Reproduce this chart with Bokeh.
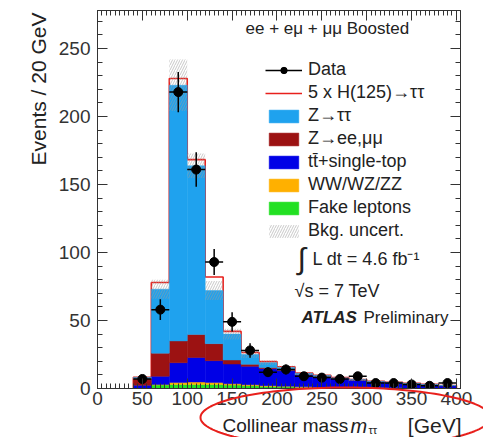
import numpy as np
from bokeh.plotting import figure
from bokeh.models import (Range1d, LinearAxis, SingleIntervalTicker, Label, Legend,
                          LegendItem, ColumnDataSource)
from bokeh.embed import file_html
from bokeh.resources import INLINE

# ---------------- data ----------------
bin_lo = [0, 20, 40, 60, 80, 100, 120, 140, 160, 180, 200, 220, 240, 260, 280, 300, 320, 340, 360, 380]
bin_width = 20
data = [0, 0, 7, 58, 218, 161, 93, 49, 28, 12, 14, 9, 8, 7, 9, 4, 4, 3, 2, 4]
data_err = [0, 0, 2.6, 7.6, 14.8, 12.7, 9.6, 7.0, 5.3, 3.5, 3.7, 3.0, 2.8, 2.6, 3.0, 2.0, 2.0, 1.7, 1.4, 2.0]
fakes = [0, 0, 0.3, 2.5, 3.0, 3.0, 3.0, 2.5, 2.0, 1.5, 1.2, 0.8, 0.6, 0.5, 0.4, 0.3, 0.3, 0.2, 0.2, 0.1]
diboson = [0, 0, 0.1, 0.5, 1.5, 1.8, 1.5, 1.0, 0.8, 0.6, 0.5, 0.4, 0.4, 0.3, 0.3, 0.2, 0.2, 0.2, 0.1, 0.1]
ttbar = [0, 0, 2.0, 6.0, 14.5, 18.0, 16.0, 14.5, 13.5, 12.5, 11.5, 8.8, 7.8, 6.4, 5.4, 4.3, 3.7, 3.0, 2.4, 1.8]
z_ll = [0, 0, 5.0, 17.0, 16.0, 17.0, 12.5, 3.0, 1.5, 0.8, 0.5, 0.3, 0.2, 0.2, 0.1, 0.1, 0.1, 0.1, 0.1, 0.1]
z_tautau = [0, 0, 0.6, 47.0, 188.0, 124.0, 39.0, 19.0, 7.2, 3.6, 1.8, 0.7, 0.5, 0.4, 0.3, 0.3, 0.2, 0.2, 0.2, 0.1]
signal5 = [0, 0, 0.3, 5.0, 5.0, 4.5, 10.0, 2.0, 1.5, 0.8, 0.5, 0.3, 0.2, 0.2, 0.1, 0.1, 0.1, 0.05, 0.05, 0.05]
bkg_unc = [0, 0, 1.0, 7.0, 19.0, 9.0, 7.0, 4.0, 2.5, 1.8, 1.5, 1.2, 1.0, 0.9, 0.8, 0.7, 0.6, 0.5, 0.4, 0.3]

x_ticks_interval = 50
y_ticks_interval = 50

FONT = "Liberation Sans"
TXT = "#222222"
AX = "#333333"

# ---------------- main figure ----------------
W, H = 483, 437
p = figure(width=W, height=H, output_backend="svg", toolbar_location=None,
           x_range=Range1d(0, 404.5), y_range=Range1d(0, 278),
           min_border_left=97, min_border_right=23, min_border_top=10, min_border_bottom=49,
           background_fill_color="white", border_fill_color="white")
p.outline_line_color = AX
p.xgrid.visible = False
p.ygrid.visible = False

xt = SingleIntervalTicker(interval=x_ticks_interval, num_minor_ticks=10)
yt = SingleIntervalTicker(interval=y_ticks_interval, num_minor_ticks=5)
p.xaxis.ticker = xt
p.yaxis.ticker = yt
for ax in (p.xaxis[0], p.yaxis[0]):
    ax.major_tick_in = 10
    ax.major_tick_out = 0
    ax.minor_tick_in = 5
    ax.minor_tick_out = 0
    ax.axis_line_color = AX
    ax.major_tick_line_color = AX
    ax.minor_tick_line_color = AX
    ax.major_label_text_font = FONT
    ax.major_label_text_font_size = "19px"
    ax.major_label_text_color = AX
p.xaxis.major_label_standoff = 3
p.yaxis.major_label_standoff = 7

for loc, tk in (("above", xt), ("right", yt)):
    ax = LinearAxis(ticker=tk, major_tick_in=10, major_tick_out=0, minor_tick_in=5, minor_tick_out=0,
                    major_label_text_font_size="1px", major_label_text_color=None,
                    major_label_standoff=0,
                    axis_line_color=AX, major_tick_line_color=AX, minor_tick_line_color=AX)
    p.add_layout(ax, loc)

# ---------------- stack ----------------
lo = np.array(bin_lo, dtype=float)
hi = lo + bin_width
ctr = lo + bin_width / 2
layers = [("Fake leptons", fakes, "#22e022"),
          ("WW/WZ/ZZ", diboson, "#ffb000"),
          ("tt\u0304+single-top", ttbar, "#0000e6"),
          ("Z\u2192ee,\u03bc\u03bc", z_ll, "#9c1212"),
          ("Z\u2192\u03c4\u03c4", z_tautau, "#1fa2ee")]
total = np.zeros(len(lo))
for _, v, _ in layers:
    total = total + np.array(v)
mask = total > 0

# 5 x H signal stacked on the background, drawn as a red outline
sig_top = total + np.array(signal5)
first = int(np.argmax(mask))
sx = np.concatenate([[lo[first]], lo[first:], [hi[-1], hi[-1]]])
sy = np.concatenate([[0], sig_top[first:], [sig_top[-1], 0]])
r_sig = p.step(sx, sy, mode="after", line_color="#e8201c", line_width=1.6)

renderers = {}
bottom = np.zeros(len(lo))
for name, v, col in layers:
    v = np.array(v, dtype=float)
    src = ColumnDataSource(dict(left=lo[mask], right=hi[mask], bottom=bottom[mask], top=(bottom + v)[mask]))
    renderers[name] = p.quad(left="left", right="right", bottom="bottom", top="top", source=src,
                             fill_color=col, line_color=col, line_width=0.5)
    bottom = bottom + v

unc = np.array(bkg_unc)
usrc = ColumnDataSource(dict(left=lo[mask], right=hi[mask], bottom=(total - unc)[mask], top=(total + unc)[mask]))
r_unc = p.quad(left="left", right="right", bottom="bottom", top="top", source=usrc,
               fill_alpha=0, line_alpha=0, hatch_pattern="right_diagonal_line",
               hatch_color="#9a9a9a", hatch_alpha=0.55, hatch_scale=5, hatch_weight=1)

# ---------------- data ----------------
d = np.array(data, dtype=float)
de = np.array(data_err, dtype=float)
dm = d > 0
dsrc = ColumnDataSource(dict(x=ctr[dm], x0=lo[dm], x1=hi[dm], y=d[dm], ylo=(d - de)[dm], yhi=(d + de)[dm]))
r_dh = p.segment(x0="x0", y0="y", x1="x1", y1="y", source=dsrc, line_color="black", line_width=1.5)
r_dv = p.segment(x0="x", y0="ylo", x1="x", y1="yhi", source=dsrc, line_color="black", line_width=1.5)
r_dp = p.scatter(x="x", y="y", source=dsrc, size=9, marker="circle", fill_color="black", line_color="black")

# ---------------- legend ----------------
items = [LegendItem(label="Data", renderers=[r_dh, r_dp]),
         LegendItem(label="5 x H(125)\u2192\u03c4\u03c4", renderers=[r_sig])]
for name, _, _ in reversed(layers):
    items.append(LegendItem(label=name, renderers=[renderers[name]]))
items.append(LegendItem(label="Bkg. uncert.", renderers=[r_unc]))
leg = Legend(items=items, location=(168, 146), padding=0, margin=0, spacing=0,
             glyph_width=37, glyph_height=16, label_height=23, label_standoff=6,
             label_text_font=FONT, label_text_font_size="18px", label_text_color=TXT,
             border_line_alpha=0, background_fill_alpha=0)
p.add_layout(leg)

# ---------------- transparent overlay (its own root) for texts outside the frame ----------------
o = figure(width=W, height=H, output_backend="svg", toolbar_location=None,
           x_range=Range1d(0, W), y_range=Range1d(H, 0),
           min_border_left=0, min_border_right=0, min_border_top=0, min_border_bottom=0,
           background_fill_alpha=0, border_fill_alpha=0)
o.outline_line_color = None
o.axis.visible = False
o.xgrid.visible = False
o.ygrid.visible = False
o.styles = {"position": "absolute", "left": "0px", "top": "0px", "pointer-events": "none"}

def lab(text, px, py, size, align="left", baseline="middle", style="normal", angle=0):
    o.add_layout(Label(x=px, y=py, text=text, text_font=FONT, text_font_size=size,
                       text_align=align, text_baseline=baseline, text_font_style=style,
                       text_color=TXT, angle=angle))

lab("ee + e\u03bc + \u03bc\u03bc Boosted", 245, 28, "17px")
lab("\u222b", 297, 258, "30px")
lab("L dt = 4.6 fb\u207b\u00b9", 312, 258, "18px")
lab("\u221as = 7 TeV", 294, 290, "18px")
lab("ATLAS", 301, 317, "17px", style="bold italic")
lab("Preliminary", 363, 317, "17px")
lab("Events / 20 GeV", 38, 12, "21px", align="right", baseline="alphabetic", angle=np.pi / 2)
lab("Collinear mass", 222, 425, "19px", baseline="alphabetic")
lab("m", 350, 425, "20px", baseline="alphabetic", style="italic")
lab("\u03c4\u03c4", 368, 429, "11px", baseline="alphabetic")
lab("[GeV]", 461, 425, "21px", align="right", baseline="alphabetic")

# red hand-drawn ellipse around the x-axis title
t = np.linspace(0, 2 * np.pi, 160)
o.line(345 + 145 * np.cos(t), 417 + 30 * np.sin(t), line_color="#e8201c", line_width=2)

open("out.html", "w").write(file_html([p, o], INLINE))
